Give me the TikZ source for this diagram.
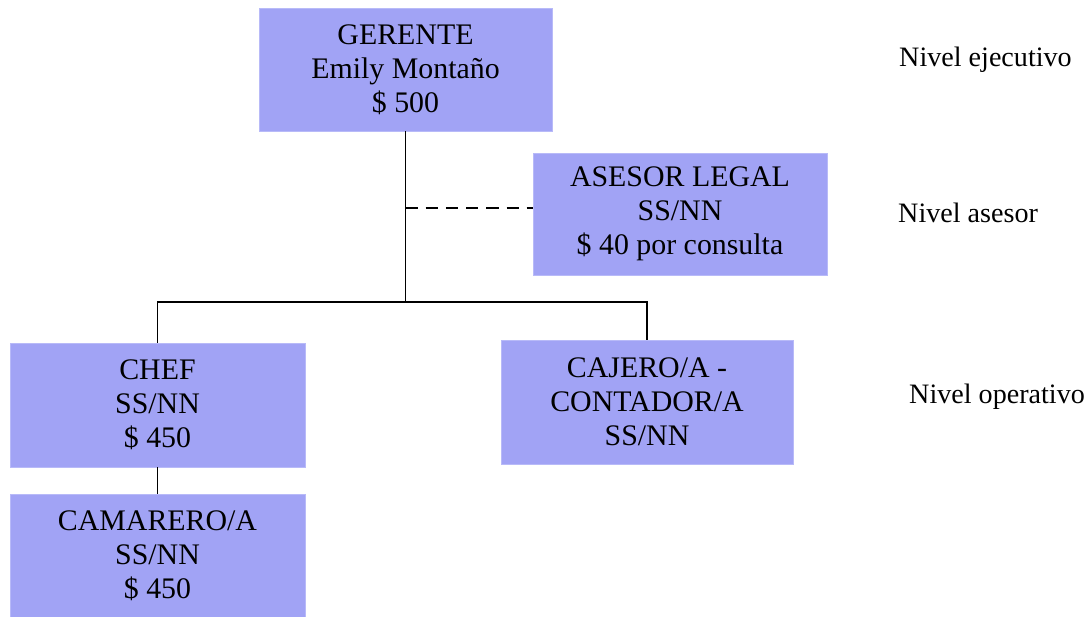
\documentclass[tikz,border=0pt]{standalone}
\usepackage{fontspec}
\setmainfont{Liberation Serif}
\definecolor{cargo}{HTML}{A1A3F5}

\begin{document}
\begin{tikzpicture}[x=0.02cm, y=-0.02cm,
        puesto/.style={fill=cargo, draw=cargo!75!white, align=center, inner sep=0pt,
            font=\fontsize{17}{19.4}\selectfont},
        nivel/.style={anchor=west, font=\fontsize{16}{19}\selectfont}]
        \useasboundingbox (0,0) rectangle (1089,617);
        % cargos
        \node[puesto, minimum width=5.86cm, minimum height=2.46cm] (gerente) at (405.5,69.5) {GERENTE\\Emily Montaño\\\$ 500};
        \node[puesto, minimum width=5.88cm, minimum height=2.44cm] (asesor) at (680,214) {ASESOR LEGAL\\SS/NN\\\$ 40 por consulta};
        \node[puesto, minimum width=5.9cm, minimum height=2.48cm] (chef) at (157.5,405) {CHEF\\SS/NN\\\$ 450};
        \node[puesto, minimum width=5.9cm, minimum height=2.48cm] (camarero) at (157.5,556) {CAMARERO/A\\SS/NN\\\$ 450};
        \node[puesto, minimum width=5.84cm, minimum height=2.48cm] (cajero) at (647,402) {CAJERO/A -\\CONTADOR/A\\SS/NN};
        % niveles
        \node[nivel] (ejecutivo) at (893,60) {Nivel ejecutivo};
        \node[nivel] (nasesor) at (892,213) {Nivel asesor};
        \node[nivel] (operativo) at (903,397) {Nivel operativo};
        % lineas de mando
        \coordinate (rama) at (405.5,302);
        \coordinate (cruce) at (405.5,208);
        \draw [thick] (gerente.south) -- (rama);
        \draw [thick] (chef.north) |- (rama) -| (cajero.north);
        \draw [thick] (chef.south) -- (camarero.north);
        \draw [thick, dash pattern=on 7pt off 4.5pt] (cruce) -- (asesor.west |- cruce);
\end{tikzpicture}
\end{document}
